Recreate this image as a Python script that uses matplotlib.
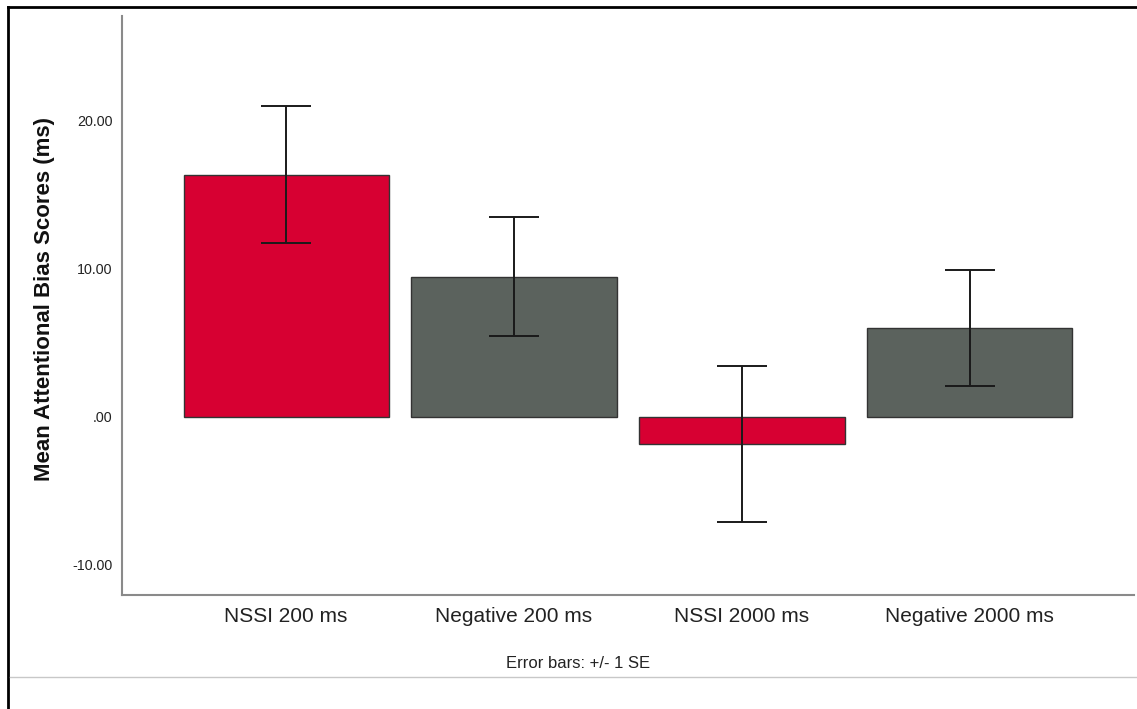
import matplotlib
matplotlib.use("Agg")
import matplotlib.pyplot as plt
from matplotlib.lines import Line2D
from matplotlib.ticker import FuncFormatter

plt.rcParams['font.family'] = ['Liberation Sans', 'DejaVu Sans']

# Mean attentional bias per condition, with standard errors
conditions = ['NSSI 200 ms', 'Negative 200 ms', 'NSSI 2000 ms', 'Negative 2000 ms']
means = [16.34, 9.44, -1.84, 5.99]
std_err = [4.62, 4.01, 5.24, 3.93]
bar_colors = ['#d70032', '#5b625d', '#d70032', '#5b625d']
y_ticks = [-10, 0, 10, 20]

W, H = 1137, 709
fig = plt.figure(figsize=(W / 100, H / 100), dpi=100)
ax = fig.add_axes([122 / W, (H - 594.5) / H, (1134 - 122) / W, (594.5 - 16) / H])

x = range(len(conditions))
ax.bar(x, means, width=0.9, yerr=std_err, capsize=18,
       color=bar_colors, edgecolor='#333333', linewidth=1,
       error_kw=dict(ecolor='#1a1a1a', elinewidth=1.4, capthick=1.4))

ax.set_xlim(-0.72, 3.72)
ax.set_ylim(-12.0, 27.05)
ax.set_xticks(list(x))
ax.set_xticklabels(conditions, fontsize=15, color='#222222')
ax.set_yticks(y_ticks)


def spss_fmt(v, pos):
    s = f"{v:.2f}"
    if s.startswith("0."):
        s = s[1:]
    return s


ax.yaxis.set_major_formatter(FuncFormatter(spss_fmt))
ax.tick_params(axis='y', length=0, pad=7, labelsize=10.3, labelcolor='#222222')
ax.tick_params(axis='x', length=0, pad=9)

for side in ['top', 'right']:
    ax.spines[side].set_visible(False)
for side in ['left', 'bottom']:
    ax.spines[side].set_color('#8a8a8a')
    ax.spines[side].set_linewidth(1.5)

fig.text(45 / W, 1 - 299 / H, 'Mean Attentional Bias Scores (ms)', rotation=90,
         ha='center', va='center', fontsize=16, fontweight='bold', color='#111111')

fig.text(578 / W, 1 - 663 / H, 'Error bars: +/- 1 SE', ha='center', va='center',
         fontsize=12, color='#222222')

# Frame around the chart area and footer separator
fig.add_artist(Line2D([8 / W, 8 / W], [0, 1 - 7 / H], transform=fig.transFigure,
                      color='black', linewidth=2))
fig.add_artist(Line2D([8 / W, 1], [1 - 7 / H, 1 - 7 / H], transform=fig.transFigure,
                      color='black', linewidth=2))
fig.add_artist(Line2D([10 / W, 1], [1 - 677 / H, 1 - 677 / H], transform=fig.transFigure,
                      color='#c8c8c8', linewidth=1))

fig.savefig('out.png', dpi=100)
